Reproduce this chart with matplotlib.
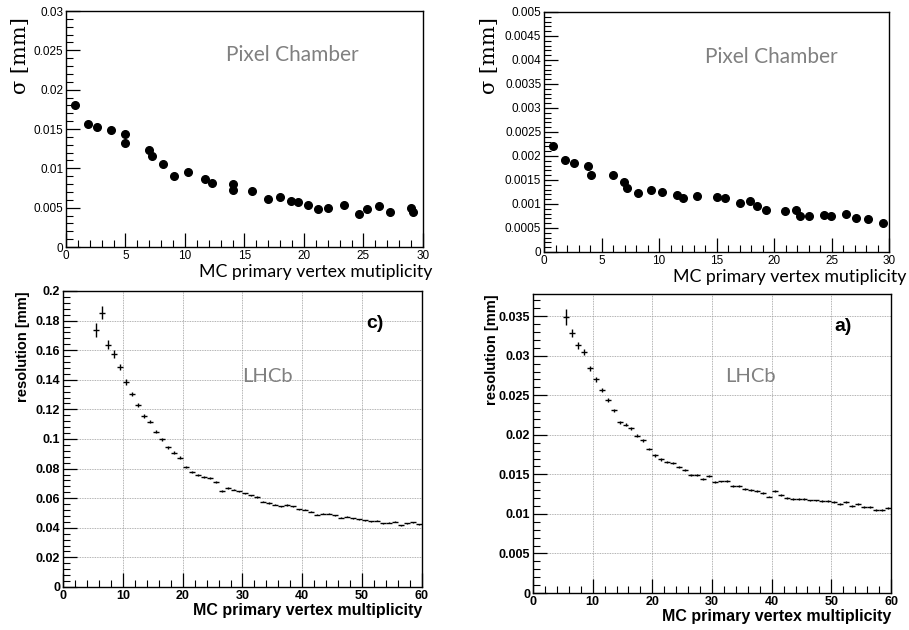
import numpy as np
import matplotlib
matplotlib.use("Agg")
import matplotlib.pyplot as plt
from matplotlib.ticker import MultipleLocator, FuncFormatter

# --- data ---
# top left: Pixel Chamber, sigma vs multiplicity
pc1_x = [0.76, 1.82, 2.61, 3.79, 4.99, 5.0, 6.98, 7.23, 8.19, 9.11, 10.23, 11.69, 12.25,
         14.02, 14.05, 15.62, 17.0, 17.95, 18.93, 19.54, 20.38, 21.22, 22.03, 23.33,
         24.59, 25.26, 26.27, 27.25, 28.99, 29.16]
pc1_y = [0.0180, 0.0157, 0.0153, 0.0149, 0.0144, 0.0132, 0.0123, 0.0116, 0.0105, 0.0090,
         0.0095, 0.0086, 0.0081, 0.0080, 0.0073, 0.0071, 0.0061, 0.0064, 0.0058, 0.0057,
         0.0053, 0.0048, 0.0050, 0.0053, 0.0042, 0.0048, 0.0052, 0.0045, 0.0050, 0.0045]

# top right: Pixel Chamber
pc2_x = [0.81, 1.85, 2.64, 3.79, 4.08, 6.02, 6.98, 7.24, 8.14, 9.3, 10.22, 11.58, 12.05,
         13.26, 15.0, 15.7, 17.0, 17.92, 18.5, 19.26, 20.99, 21.89, 22.24, 23.08, 24.32,
         24.99, 26.27, 27.16, 28.15, 29.51]
pc2_y = [0.00220, 0.00192, 0.00186, 0.00180, 0.00160, 0.00160, 0.00145, 0.00134, 0.00122,
         0.00129, 0.00126, 0.00119, 0.00112, 0.00116, 0.00114, 0.00113, 0.00103, 0.00107,
         0.00095, 0.00087, 0.00085, 0.00087, 0.00076, 0.00076, 0.00078, 0.00074, 0.00080,
         0.00070, 0.00069, 0.00061]

# bottom: LHCb histograms, bins 5..60
lhcb_x = np.arange(5.5, 60, 1.0)
lhcb_c = [0.1739, 0.1854, 0.1636, 0.1573, 0.1488, 0.1385, 0.1304, 0.1228, 0.1158, 0.1118,
          0.1050, 0.0997, 0.0943, 0.0907, 0.0873, 0.0812, 0.0779, 0.0754, 0.0741, 0.0736,
          0.0707, 0.0646, 0.0669, 0.0658, 0.0646, 0.0633, 0.0619, 0.0608, 0.0577, 0.0568,
          0.0557, 0.0545, 0.0554, 0.0545, 0.0525, 0.0521, 0.0509, 0.0489, 0.0496, 0.0496,
          0.0483, 0.0467, 0.0476, 0.0465, 0.0456, 0.0451, 0.0444, 0.0449, 0.0431, 0.0435,
          0.0440, 0.0417, 0.0431, 0.0438, 0.0424]
lhcb_c_err = [0.0047, 0.0043, 0.0030, 0.0025, 0.0020, 0.0018, 0.0016, 0.0015, 0.0013, 0.0012,
              0.0011, 0.0010, 0.0010, 0.0009, 0.0009, 0.0008, 0.0008, 0.0007, 0.0007, 0.0007,
              0.0006, 0.0006, 0.0006, 0.0006, 0.0005, 0.0005, 0.0005, 0.0005, 0.0005, 0.0005,
              0.0005, 0.0005, 0.0004, 0.0004, 0.0004, 0.0004, 0.0004, 0.0004, 0.0004, 0.0004,
              0.0004, 0.0004, 0.0004, 0.0004, 0.0004, 0.0004, 0.0004, 0.0004, 0.0004, 0.0004,
              0.0004, 0.0004, 0.0004, 0.0004, 0.0004]
lhcb_a = [0.0349, 0.0329, 0.0313, 0.0305, 0.0284, 0.0270, 0.0257, 0.0244, 0.0231, 0.0216,
          0.0213, 0.0208, 0.0199, 0.0193, 0.0182, 0.0174, 0.0169, 0.0166, 0.0164, 0.0159,
          0.0155, 0.0149, 0.0149, 0.0144, 0.0148, 0.0140, 0.0141, 0.0142, 0.0135, 0.0135,
          0.0131, 0.0130, 0.0129, 0.0127, 0.0122, 0.0129, 0.0124, 0.0120, 0.0119, 0.0119,
          0.0119, 0.0117, 0.0117, 0.0116, 0.0116, 0.0115, 0.0113, 0.0115, 0.0110, 0.0112,
          0.0109, 0.0109, 0.0105, 0.0105, 0.0107]
lhcb_a_err = [0.00105, 0.00050, 0.00040, 0.00035, 0.00030, 0.00028, 0.00026, 0.00024, 0.00022,
              0.00020] + [0.00015] * 10 + [0.00012] * 35

fmt = FuncFormatter(lambda v, p: "%g" % round(v, 6))
sans = "Liberation Sans"
label_font = "Lato"


def root_axes(ax, xmaj, xmin, ymaj, ymin, bold=False, size=8.5):
    ax.xaxis.set_major_locator(MultipleLocator(xmaj))
    ax.xaxis.set_minor_locator(MultipleLocator(xmin))
    ax.yaxis.set_major_locator(MultipleLocator(ymaj))
    ax.yaxis.set_minor_locator(MultipleLocator(ymin))
    ax.xaxis.set_major_formatter(fmt)
    ax.yaxis.set_major_formatter(fmt)
    ax.tick_params(which="both", direction="in", top=False, right=False)
    ax.tick_params(which="major", length=10, width=0.9)
    ax.tick_params(which="minor", length=5, width=0.8)
    ax.tick_params(axis="x", pad=2)
    ax.tick_params(axis="y", pad=2)
    for lab in ax.get_xticklabels() + ax.get_yticklabels():
        lab.set_fontfamily(sans)
        lab.set_fontsize(size)
        if bold:
            lab.set_fontweight("bold")
    for s in ax.spines.values():
        s.set_linewidth(1.0)


fig = plt.figure(figsize=(9.09, 6.3), dpi=100)

# ---- top left ----
ax1 = fig.add_axes([0.0726, 0.6079, 0.3927, 0.3746])
ax1.plot(pc1_x, pc1_y, "o", color="black", ms=5.5)
ax1.set_xlim(0, 30)
ax1.set_ylim(0, 0.03)
root_axes(ax1, 5, 1, 0.005, 0.001)
ax1.text(19.0, 0.0244, "Pixel Chamber", color="#808080", fontsize=15,
         family=label_font, ha="center", va="center")
ax1.set_ylabel("σ [mm]", family="DejaVu Serif", fontsize=15)
ax1.yaxis.set_label_coords(-0.10, 0.81)
ax1.set_xlabel("MC primary vertex mutiplicity", family=label_font, fontsize=12.8)
ax1.xaxis.set_label_coords(1.025, -0.07)
ax1.xaxis.label.set_ha("right")

# ---- top right ----
ax2 = fig.add_axes([0.5985, 0.6, 0.3795, 0.381])
ax2.plot(pc2_x, pc2_y, "o", color="black", ms=5.5)
ax2.set_xlim(0, 30)
ax2.set_ylim(0, 0.005)
root_axes(ax2, 5, 1, 0.0005, 0.0001)
ax2.text(19.8, 0.00406, "Pixel Chamber", color="#808080", fontsize=15,
         family=label_font, ha="center", va="center")
ax2.set_ylabel("σ [mm]", family="DejaVu Serif", fontsize=15)
ax2.yaxis.set_label_coords(-0.13, 0.82)
ax2.set_xlabel("MC primary vertex mutiplicity", family=label_font, fontsize=12.8)
ax2.xaxis.set_label_coords(1.05, -0.07)
ax2.xaxis.label.set_ha("right")

# ---- bottom left ----
ax3 = fig.add_axes([0.0693, 0.0683, 0.3949, 0.4698])
ax3.errorbar(lhcb_x, lhcb_c, xerr=0.5, yerr=lhcb_c_err, fmt="none",
             ecolor="black", elinewidth=1.0)
ax3.set_xlim(0, 60)
ax3.set_ylim(0, 0.2)
root_axes(ax3, 10, 2, 0.02, 0.004, bold=True, size=9)
ax3.grid(True, which="major", linestyle=(0, (1, 1)), color="#999999", linewidth=0.6)
ax3.text(52.1, 0.178, "c)", fontsize=14, fontweight="bold", family=sans,
         ha="center", va="center")
ax3.text(34.1, 0.142, "LHCb", color="#808080", fontsize=14.5, family=label_font,
         ha="center", va="center")
ax3.set_ylabel("resolution [mm]", family=sans, fontweight="bold", fontsize=10.5)
ax3.yaxis.set_label_coords(-0.13, 1.0)
ax3.yaxis.label.set_va("top")
ax3.yaxis.label.set_ha("right")
ax3.set_xlabel("MC primary vertex multiplicity", family=sans, fontweight="bold",
               fontsize=11.5)
ax3.xaxis.set_label_coords(1.0, -0.055)
ax3.xaxis.label.set_ha("right")

# ---- bottom right ----
ax4 = fig.add_axes([0.5864, 0.0587, 0.3938, 0.4746])
ax4.errorbar(lhcb_x, lhcb_a, xerr=0.5, yerr=lhcb_a_err, fmt="none",
             ecolor="black", elinewidth=1.0)
ax4.set_xlim(0, 60)
ax4.set_ylim(0, 0.0378)
root_axes(ax4, 10, 2, 0.005, 0.001, bold=True, size=9)
ax4.grid(True, which="major", linestyle=(0, (1, 1)), color="#999999", linewidth=0.6)
ax4.text(52.0, 0.03374, "a)", fontsize=14, fontweight="bold", family=sans,
         ha="center", va="center")
ax4.text(36.5, 0.0274, "LHCb", color="#808080", fontsize=14.5, family=label_font,
         ha="center", va="center")
ax4.set_ylabel("resolution [mm]", family=sans, fontweight="bold", fontsize=10.5)
ax4.yaxis.set_label_coords(-0.135, 1.0)
ax4.yaxis.label.set_va("top")
ax4.yaxis.label.set_ha("right")
ax4.set_xlabel("MC primary vertex multiplicity", family=sans, fontweight="bold",
               fontsize=11.5)
ax4.xaxis.set_label_coords(1.0, -0.055)
ax4.xaxis.label.set_ha("right")

fig.savefig("out.png", dpi=100)
